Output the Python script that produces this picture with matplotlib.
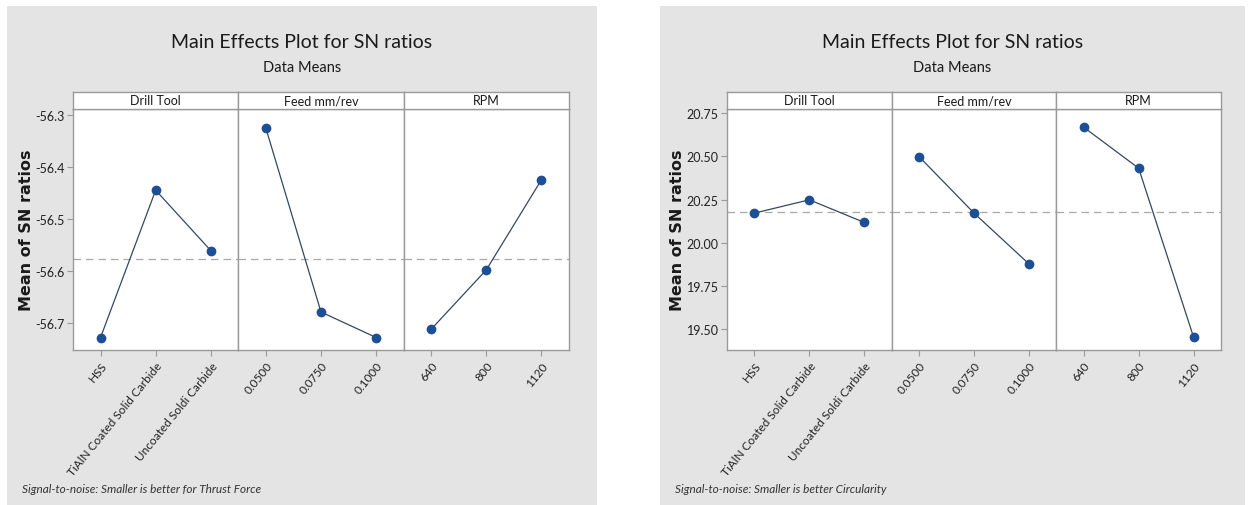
import matplotlib.pyplot as plt
from matplotlib.patches import Rectangle

# ---- data ----
factors = ['Drill Tool', 'Feed mm/rev', 'RPM']
drill_levels = ['HSS', 'TiAlN Coated Solid Carbide', 'Uncoated Soldi Carbide']
feed_levels = ['0.0500', '0.0750', '0.1000']
rpm_levels = ['640', '800', '1120']

# thrust force S/N ratios
thrust_drill = [-56.728, -56.445, -56.561]
thrust_feed = [-56.326, -56.679, -56.728]
thrust_rpm = [-56.712, -56.598, -56.425]
thrust_mean = -56.578
thrust_yticks = [-56.3, -56.4, -56.5, -56.6, -56.7]
thrust_ylim = (-56.752, -56.289)

# circularity S/N ratios
circ_drill = [20.172, 20.249, 20.118]
circ_feed = [20.499, 20.172, 19.878]
circ_rpm = [20.669, 20.432, 19.454]
circ_mean = 20.181
circ_yticks = [19.50, 19.75, 20.00, 20.25, 20.50, 20.75]
circ_ylim = (19.379, 20.775)

W, H = 1250, 506
plt.rcParams['font.family'] = ['Lato', 'DejaVu Sans']

fig = plt.figure(figsize=(W / 100, H / 100), dpi=100)
fig.patch.set_facecolor('white')


def fx(px):
    return px / W


def fy(py):
    return 1 - py / H


def draw_chart(gx0, gx1, ax_left, ax_right, series, mean, yticks, ylim, yfmt, note):
    # gray background of the chart
    fig.patches.append(Rectangle((fx(gx0), 0), fx(gx1 - gx0), fy(7), transform=fig.transFigure,
                                 facecolor='#e4e4e4', edgecolor='none', zorder=-5))
    cx = (gx0 + gx1) / 2
    fig.text(fx(cx), fy(42), 'Main Effects Plot for SN ratios', ha='center', va='center',
             fontsize=14, color='#1a1a1a')
    fig.text(fx(cx), fy(68), 'Data Means', ha='center', va='center', fontsize=10.5, color='#1a1a1a')
    fig.text(fx(gx0 + 15), fy(490), note, ha='left', va='center', fontsize=8.5,
             style='italic', color='#333333')

    top, bottom, strip_top = 110, 351, 93
    fw = (ax_right - ax_left) / 3
    levels = [drill_levels, feed_levels, rpm_levels]
    for i in range(3):
        x0 = ax_left + i * fw
        ax = fig.add_axes([fx(x0), fy(bottom), fx(fw), (bottom - top) / H])
        ax.set_facecolor('white')
        vals = series[i]
        xs = range(len(vals))
        ax.axhline(mean, color='#a8a8a8', lw=0.9, ls=(0, (6, 4)), zorder=1)
        ax.plot(xs, vals, color='#34495e', lw=0.9, zorder=2)
        ax.plot(xs, vals, 'o', color='#1c4f96', ms=6, zorder=3)
        ax.set_xlim(-0.5, 2.5)
        ax.set_ylim(*ylim)
        ax.set_xticks(list(xs))
        ax.set_xticklabels(levels[i], rotation=51, ha='right', va='top',
                           rotation_mode='anchor', fontsize=8.5, color='#222222')
        for sp in ax.spines.values():
            sp.set_color('#9a9a9a')
            sp.set_linewidth(1.0)
        ax.tick_params(axis='x', length=4, color='#9a9a9a', pad=3)
        if i == 0:
            ax.set_yticks(yticks)
            ax.set_yticklabels([yfmt.format(v) for v in yticks], fontsize=9, color='#222222')
            ax.tick_params(axis='y', length=4, color='#9a9a9a', pad=2)
            ax.set_ylabel('Mean of SN ratios', family='DejaVu Sans', fontsize=11.5,
                          fontweight='bold', color='#1a1a1a', labelpad=1)
        else:
            ax.set_yticks([])
        # facet strip
        sax = fig.add_axes([fx(x0), fy(top), fx(fw), (top - strip_top) / H])
        sax.set_xticks([])
        sax.set_yticks([])
        sax.set_facecolor('white')
        for sp in sax.spines.values():
            sp.set_color('#9a9a9a')
            sp.set_linewidth(1.0)
        sax.text(0.5, 0.5, factors[i], ha='center', va='center', fontsize=9,
                 color='#1a1a1a', transform=sax.transAxes)


draw_chart(7, 597, 73, 569, [thrust_drill, thrust_feed, thrust_rpm], thrust_mean,
           thrust_yticks, thrust_ylim, '{:.1f}', 'Signal-to-noise: Smaller is better for Thrust Force')
draw_chart(660, 1245, 727, 1221, [circ_drill, circ_feed, circ_rpm], circ_mean,
           circ_yticks, circ_ylim, '{:.2f}', 'Signal-to-noise: Smaller is better Circularity')

fig.savefig('out.png', dpi=100)
